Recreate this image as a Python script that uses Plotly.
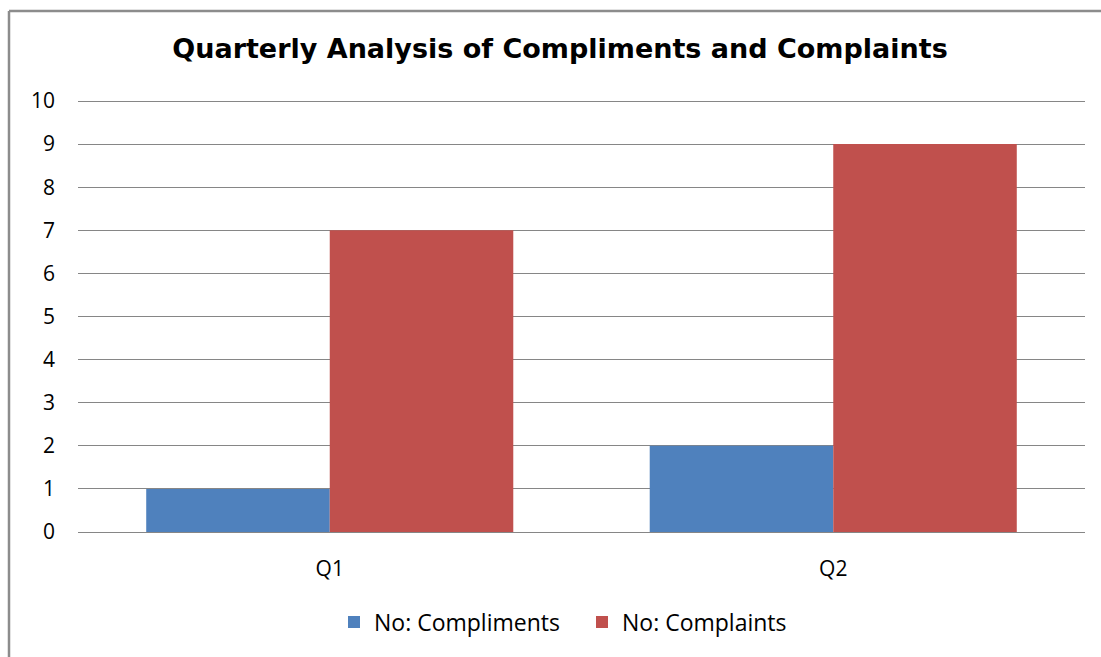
import plotly.graph_objects as go

categories = ["Q1", "Q2"]
compliments = [1, 2]
complaints = [7, 9]
series_names = ["No: Compliments", "No: Complaints"]
title_text = "Quarterly Analysis of Compliments and Complaints"
y_ticks = list(range(0, 11))

W, H = 1101, 657
L, R, T, B = 78, 16, 98, 125
pw, ph = W - L - R, H - T - B
unit = (H - B - 101) / 10.0          # pixels per unit (0 at y=532, 10 at y=101)
y_top = ph / unit

def px_x(x):
    return (x - L) / pw

def px_y(y):
    return (H - B - y) / ph

fig = go.Figure()
fig.add_trace(go.Bar(x=categories, y=compliments, name=series_names[0],
                     marker=dict(color="#4F81BD", line=dict(width=0))))
fig.add_trace(go.Bar(x=categories, y=complaints, name=series_names[1],
                     marker=dict(color="#C0504D", line=dict(width=0))))

font_fam = "Open Sans, sans-serif"
border = dict(color="#8c8c8c", width=2.5)
fig.update_layout(
    width=W, height=H,
    margin=dict(l=L, r=R, t=T, b=B, pad=0),
    paper_bgcolor="white", plot_bgcolor="white",
    barmode="group", bargap=0.271, bargroupgap=0,
    title=dict(text="<b>" + title_text + "</b>", x=px_x(560), xref="paper", xanchor="center",
               y=1 - 49 / H, yref="container", yanchor="middle",
               font=dict(family="DejaVu Sans, sans-serif", size=27, color="black")),
    font=dict(family=font_fam, size=20, color="black"),
    showlegend=True,
    legend=dict(orientation="h", x=px_x(582), xanchor="center", y=px_y(622), yanchor="middle",
                font=dict(family=font_fam, size=23, color="black"),
                entrywidth=203, entrywidthmode="pixels",
                itemsizing="constant", traceorder="normal"),
    xaxis=dict(showgrid=False, showline=True, linecolor="#868686", linewidth=1,
               ticks="", tickfont=dict(family=font_fam, size=21), ticklabelstandoff=18),
    yaxis=dict(range=[0, y_top], tickvals=y_ticks, showgrid=True, gridcolor="#868686", gridwidth=1,
               zeroline=False, showline=False, ticks="",
               tickfont=dict(family=font_fam, size=21), ticklabelstandoff=22),
    shapes=[
        dict(type="line", xref="paper", yref="paper",
             x0=px_x(9), x1=px_x(1120), y0=px_y(11), y1=px_y(11), line=border),
        dict(type="line", xref="paper", yref="paper",
             x0=px_x(9), x1=px_x(9), y0=px_y(11), y1=px_y(680), line=border),
    ],
)

fig.write_html("out.html", config={"displayModeBar": False})
